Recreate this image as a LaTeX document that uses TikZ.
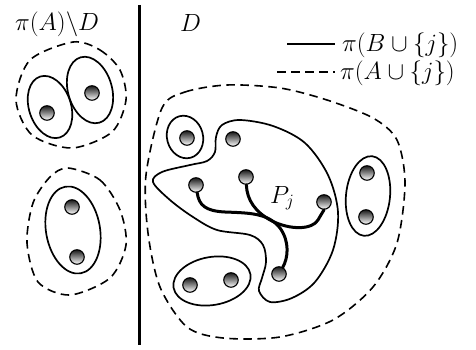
\documentclass[tikz,border=0pt]{standalone}
\usetikzlibrary{shapes.geometric}
\begin{document}
\begin{tikzpicture}[x=1pt,y=-1pt,
  dot/.style={circle, draw=black, line width=1.1pt, minimum size=14.5pt, inner sep=0pt, top color=black!90, bottom color=white},
  oval/.style={ellipse, draw, line width=1.7pt, inner sep=0pt},
  blob/.style={draw, line width=1.7pt},
  dashblob/.style={draw, line width=1.6pt, dash pattern=on 8.5pt off 5.5pt},
  pathline/.style={line width=3pt, line cap=round},
  lbl/.style={font=\fontsize{26}{30}\selectfont, inner sep=0pt}]
\useasboundingbox (0,0) rectangle (476,350);

% divider
\coordinate (v1) at (139,5);
\coordinate (v2) at (139,345);
\draw[line width=3pt] (v1) -- (v2);

% labels
\node[lbl, anchor=west] (lA) at (15,24) {$\pi(A)\backslash D$};
\node[lbl, anchor=base west] (lD) at (180,32) {$D$};

% legend
\coordinate (s1) at (287,44);
\coordinate (s2) at (335,44);
\draw[line width=1.7pt] (s1) -- (s2);
\node[lbl, anchor=west] (lB) at (342,45) {$\pi(B\cup\{j\})$};
\coordinate (t1) at (277,72);
\coordinate (t2) at (335,72);
\draw[line width=1.7pt, dash pattern=on 8.5pt off 5.5pt] (t1) -- (t2);
\node[lbl, anchor=west] (lAj) at (340,73.5) {$\pi(A\cup\{j\})$};

% left top group
\draw[dashblob] plot[smooth cycle] coordinates {(73,42) (100,50) (120,70) (126,100) (112,132) (72,148) (32,135) (16,100) (30,60)};
\node[oval, minimum width=42pt, minimum height=64pt, rotate=18] (e1) at (50,107) {};
\node[oval, minimum width=44pt, minimum height=68pt, rotate=16] (e2) at (90,90) {};
\node[dot] (d1) at (47,113) {};
\node[dot] (d2) at (92,93) {};

% left bottom group
\draw[dashblob] plot[smooth cycle] coordinates {(68,168) (100,180) (120,210) (126,245) (110,278) (70,295) (38,282) (27,243) (33,203) (50,177)};
\node[oval, minimum width=54pt, minimum height=88pt, rotate=10] (e3) at (73,230) {};
\node[dot] (d3) at (72,207) {};
\node[dot] (d4) at (77,257) {};

% D region
\draw[dashblob] plot[smooth cycle] coordinates {(162,108) (185,92) (227,85) (280,88) (327,100) (373,118) (397,140) (405,183) (397,243) (373,287) (333,320) (280,337) (223,338) (187,327) (160,287) (148,233) (146,175)};

\draw[blob] plot[smooth cycle, tension=0.55] coordinates {(222,125) (240,120) (273,126) (305,143) (328,175) (338,212) (333,250) (315,282) (292,298) (270,302) (259,291) (262,278) (266,262) (263,245) (250,235) (217,230) (193,217) (170,200) (153,182) (162,172) (190,165) (207,161) (215,152) (216,137)};

\node[oval, minimum width=36pt, minimum height=43pt, rotate=15] (e4) at (185,137) {};
\node[oval, minimum width=78pt, minimum height=48pt, rotate=10] (e5) at (212,281) {};
\node[oval, minimum width=44pt, minimum height=80pt, rotate=-6] (e6) at (368,196) {};

\node[dot] (d5) at (187,138) {};
\node[dot] (d6) at (233,139) {};
\node[dot] (d7) at (196,185) {};
\node[dot] (d8) at (246,177) {};
\node[dot] (d9) at (324,202) {};
\node[dot] (d10) at (279,274) {};
\node[dot] (d11) at (190,285) {};
\node[dot] (d12) at (231,280) {};
\node[dot] (d13) at (367,173) {};
\node[dot] (d14) at (366,217) {};

% paths P_j
\draw[pathline] (d7) .. controls (199,205) and (205,211) .. (225,212) .. controls (250,213) and (268,213) .. (280,228) .. controls (290,242) and (288,258) .. (d10);
\draw[pathline] (d8) .. controls (247,200) and (255,212) .. (272,221) .. controls (290,230) and (312,230) .. (318,220) .. controls (322,213) and (324,210) .. (d9);
\node[lbl, anchor=base west] (lP) at (270,203) {$P_j$};
\end{tikzpicture}
\end{document}
